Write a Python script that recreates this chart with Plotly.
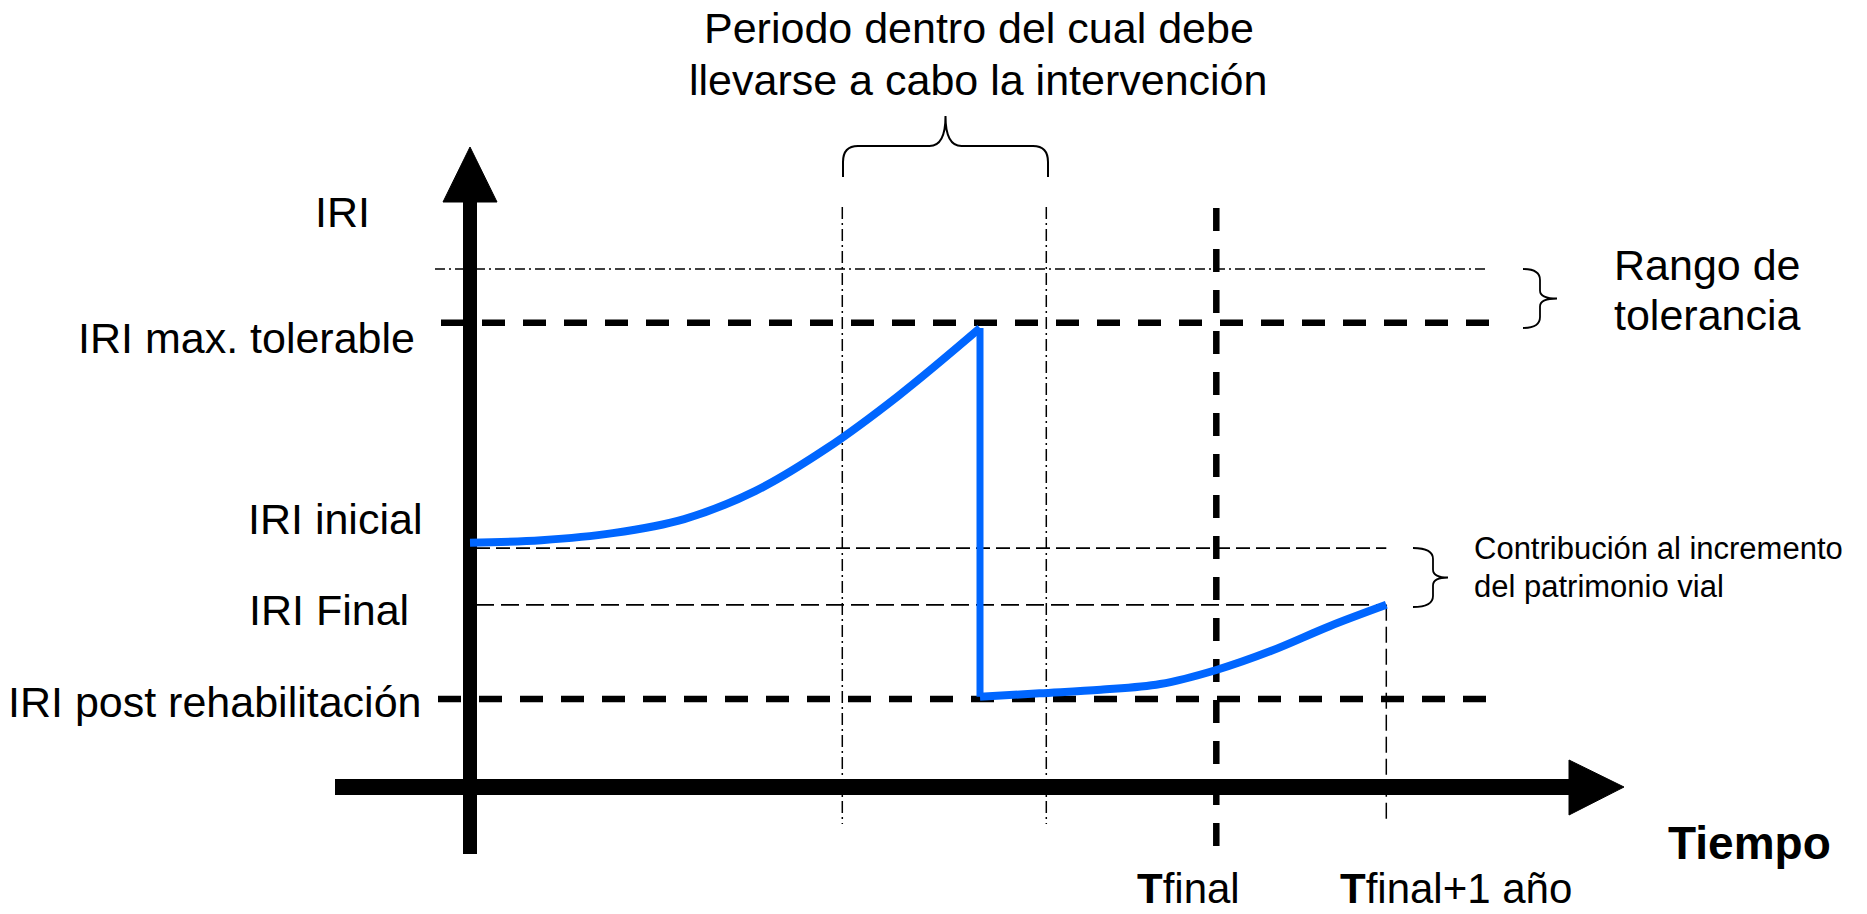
import plotly.graph_objects as go

# ---------------- canvas / scale set-up (layout constants) ----------------
W, H = 1867, 914
T0_PX, PX_PER_YEAR = 470, 170      # time origin (y axis) and pixels per year
I0_PX, PX_PER_IRI = 787, 44        # IRI origin (x axis) and pixels per IRI unit


def tx(px):
    return (px - T0_PX) / PX_PER_YEAR


def iy(py):
    return (I0_PX - py) / PX_PER_IRI


# ---------------- data ----------------
# reference IRI levels
iri_rango_sup = 11.77
iri_max_tolerable = 10.55
iri_inicial = 5.43
iri_final = 4.14
iri_post_rehab = 2.00

# reference times (years)
t_periodo_inicio = 2.19
t_periodo_fin = 3.39
t_intervencion = 3.00
t_final = 4.39
t_final_mas_1 = 5.39

# IRI evolution before the intervention
t_tramo_1 = [0.00, 0.42, 0.84, 1.26, 1.68, 2.10, 2.52, 3.00]
iri_tramo_1 = [5.55, 5.61, 5.77, 6.09, 6.73, 7.70, 8.89, 10.43]

# IRI evolution after the intervention
t_tramo_2 = [3.00, 3.35, 3.71, 4.06, 4.39, 4.71, 5.06, 5.39]
iri_tramo_2 = [2.05, 2.13, 2.21, 2.34, 2.66, 3.09, 3.66, 4.14]

# labels
iri_tick_labels = ["IRI", "IRI max. tolerable", "IRI inicial", "IRI Final", "IRI post rehabilitación"]
time_tick_labels = ["<b>T</b>final", "<b>T</b>final+1 año"]
axis_title_x = "<b>Tiempo</b>"
titulo_lineas = ["Periodo dentro del cual debe", "llevarse a cabo la intervención"]
rango_lineas = ["Rango de", "tolerancia"]
contrib_lineas = ["Contribución al incremento", "del patrimonio vial"]

FONT = "Liberation Sans, Arial, sans-serif"
BLUE = "#0066FF"

fig = go.Figure()


def line_trace(xs, ys, width, dash, color="black", shape="linear"):
    fig.add_trace(go.Scatter(x=xs, y=ys, mode="lines",
                             line=dict(color=color, width=width, dash=dash, shape=shape),
                             hoverinfo="skip", showlegend=False))


DASHDOT = "10px,4px,2px,4px"
THICK_DASH = "23px,18px"
THIN_DASH = "16px,6px"

# horizontal reference lines
line_trace([tx(435), tx(1487)], [iri_rango_sup] * 2, 1.5, DASHDOT)
line_trace([tx(441), tx(1493)], [iri_max_tolerable] * 2, 6.5, THICK_DASH)
line_trace([tx(476), t_final_mas_1], [iri_inicial] * 2, 1.8, "14px,6px")
line_trace([tx(476), t_final_mas_1], [iri_final] * 2, 1.8, "18px,7px")
line_trace([tx(438), tx(1487)], [iri_post_rehab] * 2, 6.5, THICK_DASH)

# vertical reference lines
line_trace([t_periodo_inicio] * 2, [iy(207), iy(824)], 1.5, "12px,4px,2px,4px")
line_trace([t_periodo_fin] * 2, [iy(207), iy(824)], 1.5, "12px,4px,2px,4px")
line_trace([t_final] * 2, [iy(208), iy(854)], 6.5, THICK_DASH)
line_trace([t_final_mas_1] * 2, [iri_final, iy(820)], 1.5, THIN_DASH)

# IRI curve
line_trace(t_tramo_1, iri_tramo_1, 8, "solid", BLUE, "spline")
line_trace([t_intervencion, t_intervencion], [iri_tramo_1[-1], iri_tramo_2[0]], 7, "solid", BLUE)
line_trace(t_tramo_2, iri_tramo_2, 8, "solid", BLUE, "spline")

# ---------------- axes with arrows (shapes) ----------------
shapes = []
# y axis
shapes.append(dict(type="line", xref="x", yref="y", x0=0, x1=0, y0=iy(854), y1=iy(200),
                   line=dict(color="black", width=14), layer="below"))
shapes.append(dict(type="path", xref="x", yref="y",
                   path=f"M {tx(443)},{iy(202)} L {tx(497)},{iy(202)} L 0,{iy(147)} Z",
                   fillcolor="black", line=dict(color="black", width=1), layer="below"))
# x axis
shapes.append(dict(type="line", xref="x", yref="y", x0=tx(335), x1=tx(1572), y0=0, y1=0,
                   line=dict(color="black", width=16), layer="below"))
shapes.append(dict(type="path", xref="x", yref="y",
                   path=f"M {tx(1569)},{iy(760)} L {tx(1569)},{iy(815)} L {tx(1624)},0 Z",
                   fillcolor="black", line=dict(color="black", width=1), layer="below"))


def path_from_px(cmds):
    out = []
    for c in cmds:
        op, pts = c[0], c[1:]
        out.append(op + " " + " ".join(f"{tx(p[0]):.5f},{iy(p[1]):.5f}" for p in pts))
    return " ".join(out)


# brace above the intervention period
xa, xb = 843, 1048
xm = (xa + xb) / 2
brace_top = path_from_px([
    ("M", (xa, 177)), ("L", (xa, 162)), ("Q", (xa, 146), (xa + 15, 146)),
    ("L", (xm - 16, 146)), ("Q", (xm, 146), (xm, 116)),
    ("Q", (xm, 146), (xm + 16, 146)), ("L", (xb - 15, 146)),
    ("Q", (xb, 146), (xb, 162)), ("L", (xb, 177)),
])
shapes.append(dict(type="path", xref="x", yref="y", path=brace_top,
                   line=dict(color="black", width=2)))

# brace for tolerance range
ya, yb = 269, 328
ym = (ya + yb) / 2
brace_rango = path_from_px([
    ("M", (1523, ya)), ("Q", (1540, ya), (1540, ya + 11)), ("L", (1540, ym - 8)),
    ("Q", (1540, ym), (1557, ym)), ("Q", (1540, ym), (1540, ym + 8)),
    ("L", (1540, yb - 11)), ("Q", (1540, yb), (1523, yb)),
])
shapes.append(dict(type="path", xref="x", yref="y", path=brace_rango,
                   line=dict(color="black", width=1.8)))

# brace for contribution
ya, yb = 548, 607
ym = (ya + yb) / 2
brace_contrib = path_from_px([
    ("M", (1413, ya)), ("Q", (1433, ya), (1433, ya + 11)), ("L", (1433, ym - 8)),
    ("Q", (1433, ym), (1448, ym)), ("Q", (1433, ym), (1433, ym + 8)),
    ("L", (1433, yb - 11)), ("Q", (1433, yb), (1413, yb)),
])
shapes.append(dict(type="path", xref="x", yref="y", path=brace_contrib,
                   line=dict(color="black", width=1.8)))

# ---------------- text ----------------
annotations = []


def txt(text, px, py, size, xanchor="center"):
    annotations.append(dict(text=text, x=px / W, y=1 - py / H, xref="paper", yref="paper",
                            xanchor=xanchor, yanchor="middle", showarrow=False,
                            font=dict(family=FONT, size=size, color="black"), align="left"))


# IRI labels (right aligned)
label_pos = [(372, 212), (417, 338), (424, 519), (411, 610), (424, 702)]
for lab, (px, py) in zip(iri_tick_labels, label_pos):
    txt(lab, px, py, 43, "right")

# title
txt(titulo_lineas[0], 979, 28, 43)
txt(titulo_lineas[1], 978, 80, 43)

# rango de tolerancia
txt(rango_lineas[0], 1612, 265, 43, "left")
txt(rango_lineas[1], 1612, 315, 43, "left")

# contribución
txt(contrib_lineas[0], 1472, 548, 31, "left")
txt(contrib_lineas[1], 1472, 586, 31, "left")

# time labels
txt(time_tick_labels[0], 1135, 888, 42, "left")
txt(time_tick_labels[1], 1338, 888, 42, "left")
txt(axis_title_x, 1749, 843, 46)

fig.update_layout(
    width=W, height=H, autosize=False,
    margin=dict(l=0, r=0, t=0, b=0),
    paper_bgcolor="white", plot_bgcolor="white",
    xaxis=dict(range=[tx(0), tx(W)], visible=False, fixedrange=True),
    yaxis=dict(range=[iy(H), iy(0)], visible=False, fixedrange=True),
    shapes=shapes, annotations=annotations, showlegend=False,
)

fig.write_html("out.html", config={"displayModeBar": False},
               post_script="document.body.style.margin='0px';document.body.style.padding='0px';"
                           "document.documentElement.style.overflow='hidden';")
